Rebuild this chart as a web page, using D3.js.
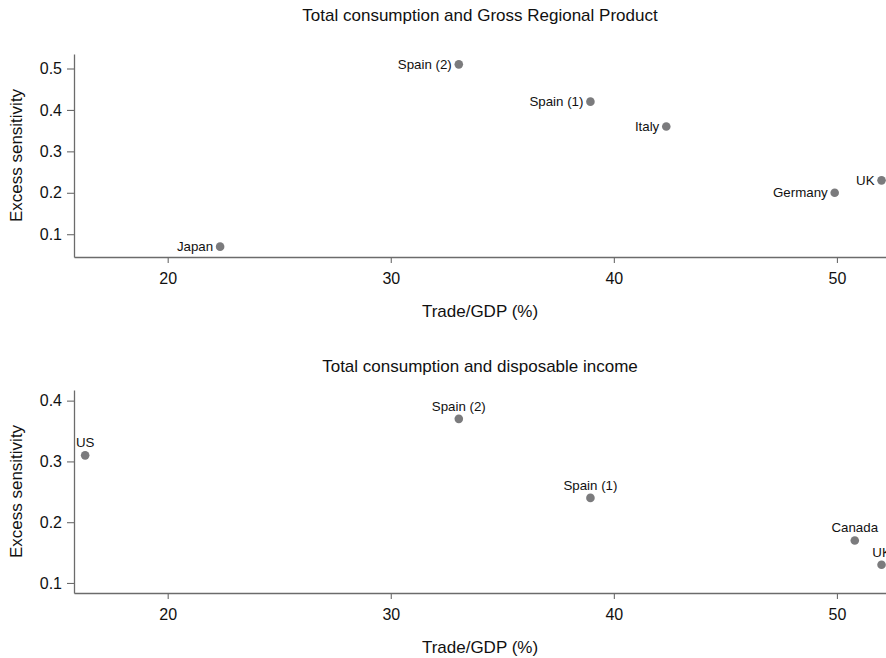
<!DOCTYPE html>
<html>
<head>
<meta charset="utf-8">
<script src="https://cdn.jsdelivr.net/npm/d3@7"></script>
<style>
  body { margin: 0; background: #fff; }
  svg { display: block; font-family: "Liberation Sans", Arial, Helvetica, sans-serif; }
</style>
</head>
<body>
<svg id="chart" width="886" height="658"></svg>
<script>
// ---- Data ----
const topTitle = "Total consumption and Gross Regional Product";
const topCountries = ["Japan", "Spain (2)", "Spain (1)", "Italy", "Germany", "UK"];
const topTrade = [22.35, 33.05, 38.95, 42.35, 49.9, 52.0];
const topSens = [0.07, 0.51, 0.42, 0.36, 0.20, 0.23];

const bottomTitle = "Total consumption and disposable income";
const bottomCountries = ["US", "Spain (2)", "Spain (1)", "Canada", "UK"];
const bottomTrade = [16.3, 33.05, 38.95, 50.8, 52.0];
const bottomSens = [0.31, 0.37, 0.24, 0.17, 0.13];

const xTicks = [20, 30, 40, 50];
const topYTicks = [0.1, 0.2, 0.3, 0.4, 0.5];
const bottomYTicks = [0.1, 0.2, 0.3, 0.4];
const xLabel = "Trade/GDP (%)";
const yLabel = "Excess sensitivity";

// ---- Drawing ----
const svg = d3.select("#chart");
const dotColor = "#7b7b7d";
const axisColor = "#6b6b6b";
const textColor = "#111";

function panel(cfg) {
  const g = svg.append("g");
  const x = d3.scaleLinear().domain([15.8, 52.2]).range([74, 886]);
  const y = d3.scaleLinear().domain(cfg.yDomain).range([cfg.bottom, cfg.top]);

  // title
  g.append("text").attr("x", 480).attr("y", cfg.titleY)
    .attr("text-anchor", "middle").attr("font-size", 17).attr("fill", textColor)
    .text(cfg.title);

  // x axis
  const xa = g.append("g").attr("transform", `translate(0,${cfg.bottom})`)
    .call(d3.axisBottom(x).tickValues(xTicks).tickSizeInner(6).tickSizeOuter(0).tickPadding(6).tickFormat(d3.format("d")));
  // y axis
  const ya = g.append("g").attr("transform", `translate(74,0)`)
    .call(d3.axisLeft(y).tickValues(cfg.yTicks).tickSizeInner(7).tickSizeOuter(0).tickPadding(5).tickFormat(d3.format(".1f")));
  [xa, ya].forEach(a => {
    a.select(".domain").attr("stroke", axisColor).attr("stroke-width", 1.3);
    a.selectAll(".tick line").attr("stroke", axisColor).attr("stroke-width", 1.1);
    a.selectAll(".tick text").attr("font-size", 16).attr("fill", textColor)
      .attr("font-family", "Liberation Sans, Arial, sans-serif");
  });
  xa.selectAll(".tick text").attr("dy", "0.95em");

  // axis titles
  g.append("text").attr("x", 480).attr("y", cfg.bottom + 60)
    .attr("text-anchor", "middle").attr("font-size", 17).attr("fill", textColor)
    .text(xLabel);
  g.append("text")
    .attr("transform", `translate(22,${(cfg.top + cfg.bottom) / 2}) rotate(-90)`)
    .attr("text-anchor", "middle").attr("font-size", 17).attr("fill", textColor)
    .text(yLabel);

  const data = cfg.countries.map((c, i) => ({ name: c, tx: cfg.trade[i], s: cfg.sens[i] }));
  g.selectAll("circle").data(data).join("circle")
    .attr("cx", d => x(d.tx)).attr("cy", d => y(d.s)).attr("r", 4.3)
    .attr("fill", dotColor);

  g.selectAll("text.lbl").data(data).join("text").attr("class", "lbl")
    .attr("font-size", 13.3).attr("fill", textColor)
    .each(function (d) {
      const t = d3.select(this);
      if (cfg.labelPos === "left") {
        t.attr("x", x(d.tx) - 7).attr("y", y(d.s)).attr("dy", "0.35em").attr("text-anchor", "end");
      } else {
        t.attr("x", x(d.tx)).attr("y", y(d.s) - 8).attr("text-anchor", "middle");
      }
    })
    .text(d => d.name);
}

panel({
  title: topTitle, titleY: 21, top: 54, bottom: 257,
  yDomain: [0.045, 0.535], yTicks: topYTicks,
  countries: topCountries, trade: topTrade, sens: topSens, labelPos: "left"
});
panel({
  title: bottomTitle, titleY: 372, top: 390, bottom: 593,
  yDomain: [0.0835, 0.4175], yTicks: bottomYTicks,
  countries: bottomCountries, trade: bottomTrade, sens: bottomSens, labelPos: "above"
});
</script>
</body>
</html>
